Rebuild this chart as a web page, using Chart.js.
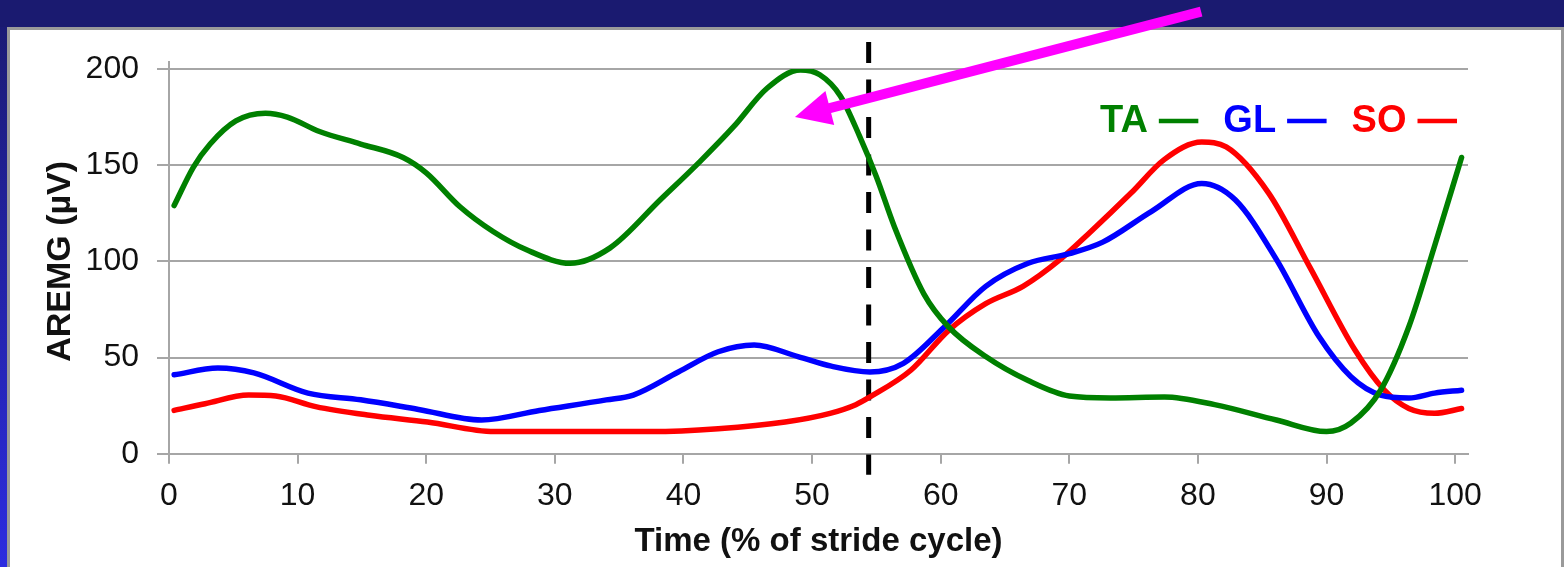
<!DOCTYPE html>
<html>
<head>
<meta charset="utf-8">
<script src="https://cdn.jsdelivr.net/npm/chart.js@4.4.1/dist/chart.umd.min.js"></script>
<style>
  html, body { margin: 0; padding: 0; background: #1a1a70; }
  #wrap { width: 1564px; height: 567px; }
</style>
</head>
<body>
<div id="wrap"><canvas id="c" width="1564" height="567"></canvas></div>
<script>
// ---- data ----
const xTicks = [0, 10, 20, 30, 40, 50, 60, 70, 80, 90, 100];
const yTicks = [0, 50, 100, 150, 200];

const taTime = [0.4, 1.9, 3.2, 5.2, 7.5, 9.2, 11.7, 14.9, 18.2, 20.0, 22.6, 25.2, 27.8, 31.2, 34.3, 38.2, 41.3, 43.9, 46.5, 49.1, 50.6, 52.2, 53.7, 55.0, 56.4, 58.7, 60.6, 63.5, 66.8, 70.0, 73.2, 77.4, 81.3, 86.1, 90.0, 91.9, 94.2, 96.4, 98.4, 100.5];
const taValues = [129, 149, 161, 173, 177, 175, 167.5, 161, 154, 146, 128.5, 115.5, 106, 99, 107, 132, 152, 170, 190, 199.5, 197, 186, 165, 144, 118, 83, 66, 50.5, 38, 30, 29, 29.5, 25.5, 17.5, 11.5, 16, 33, 66, 108, 154];

const glTime = [0.4, 3.8, 6.6, 10.8, 14.9, 19.4, 24.3, 28.8, 34.0, 36.1, 39.6, 42.7, 45.5, 48.9, 51.5, 54.5, 57.1, 60.3, 63.5, 66.8, 70.0, 72.6, 76.4, 80.3, 82.9, 86.1, 89.4, 91.9, 94.2, 96.4, 98.4, 100.5];
const glValues = [41, 44.5, 42, 31.5, 28, 23, 17.5, 22.5, 28, 30.5, 42.5, 53, 56.5, 50.5, 45.5, 42.5, 47, 66, 87, 99, 104, 110, 126, 140.5, 132, 101, 61, 40, 30.5, 29, 31.5, 33];

const soTime = [0.4, 2.8, 6.2, 8.3, 11.4, 15.6, 20.1, 25.3, 37.5, 42.7, 47.9, 51.4, 53.4, 54.5, 57.7, 60.6, 63.5, 66.4, 69.3, 71.6, 74.8, 77.4, 80.3, 82.2, 85.5, 88.7, 92.2, 94.5, 96.4, 98.4, 100.5];
const soValues = [22.5, 26, 30.5, 30, 24.5, 20, 16.5, 11.5, 11.5, 13, 16.5, 21, 25.5, 29.5, 43.5, 64, 78, 87, 101, 115, 135.5, 153, 162, 159.5, 135.5, 97, 54, 33, 23.5, 21, 23.5];

const seriesNames = ['TA', 'GL', 'SO'];
const seriesColors = ['#008000', '#0000ff', '#ff0000'];

const stanceLine = { time: [54.4, 54.4], values: [214, -11] };
const arrow = { tail: [80.25, 229.8], tip: [48.67, 175.0] };

function pts(xs, ys) { return xs.map((x, i) => ({ x: x, y: ys[i] })); }

const FONT = "'Liberation Sans', Arial, Helvetica, sans-serif";

// ---- plugins ----
const backgroundPlugin = {
  id: 'bg',
  beforeDraw(chart) {
    const ctx = chart.ctx, W = chart.width, H = chart.height;
    ctx.save();
    ctx.fillStyle = '#1a1a70';
    ctx.fillRect(0, 0, W, H);
    const g = ctx.createLinearGradient(0, 0, 0, H);
    g.addColorStop(0, '#1a1a70');
    g.addColorStop(1, '#2c2ce0');
    ctx.fillStyle = g;
    ctx.fillRect(0, 27, 8, H - 27);
    ctx.fillStyle = '#9a9a9a';
    ctx.fillRect(7, 27, W - 7, H - 27);
    ctx.fillStyle = '#ffffff';
    ctx.fillRect(10, 30, W - 13, H - 30);
    ctx.restore();
  }
};

const overlayPlugin = {
  id: 'overlay',
  afterDraw(chart) {
    const ctx = chart.ctx;
    const xs = chart.scales.x, ys = chart.scales.y;
    const area = chart.chartArea;
    ctx.save();
    // y axis line extends a little above the top gridline
    ctx.strokeStyle = '#a6a6a6';
    ctx.lineWidth = 2;
    ctx.beginPath();
    ctx.moveTo(area.left, area.top - 8);
    ctx.lineTo(area.left, area.top);
    ctx.stroke();

    // legend: label text followed by a colored dash
    ctx.font = 'bold 38px ' + FONT;
    ctx.textBaseline = 'alphabetic';
    ctx.textAlign = 'left';
    let x = 1100;
    chart.data.datasets.forEach(ds => {
      if (!ds.inLegend) return;
      ctx.fillStyle = ds.borderColor;
      ctx.fillText(ds.label, x, 132);
      x += ctx.measureText(ds.label).width + 11;
      ctx.strokeStyle = ds.borderColor;
      ctx.lineWidth = 4.5;
      ctx.beginPath();
      ctx.moveTo(x, 121);
      ctx.lineTo(x + 39.5, 121);
      ctx.stroke();
      x += 39.5 + 25;
    });

    // magenta arrow
    const tx = xs.getPixelForValue(arrow.tail[0]), ty = ys.getPixelForValue(arrow.tail[1]);
    const hx = xs.getPixelForValue(arrow.tip[0]), hy = ys.getPixelForValue(arrow.tip[1]);
    const dx = hx - tx, dy = hy - ty, L = Math.hypot(dx, dy);
    const ux = dx / L, uy = dy / L;
    const headLen = 36, headHalf = 17.5;
    const bx = hx - ux * headLen, by = hy - uy * headLen;
    ctx.strokeStyle = '#ff00ff';
    ctx.fillStyle = '#ff00ff';
    ctx.lineWidth = 10;
    ctx.lineCap = 'butt';
    ctx.beginPath();
    ctx.moveTo(tx, ty);
    ctx.lineTo(bx + ux * 4, by + uy * 4);
    ctx.stroke();
    ctx.beginPath();
    ctx.moveTo(hx, hy);
    ctx.lineTo(bx - uy * headHalf, by + ux * headHalf);
    ctx.lineTo(bx + uy * headHalf, by - ux * headHalf);
    ctx.closePath();
    ctx.fill();
    ctx.restore();
  }
};

// ---- chart ----
const datasets = [
  { label: seriesNames[0], data: pts(taTime, taValues), borderColor: seriesColors[0], inLegend: true },
  { label: seriesNames[1], data: pts(glTime, glValues), borderColor: seriesColors[1], inLegend: true },
  { label: seriesNames[2], data: pts(soTime, soValues), borderColor: seriesColors[2], inLegend: true },
].map(d => Object.assign(d, {
  borderWidth: 5.5,
  pointRadius: 0,
  fill: false,
  cubicInterpolationMode: 'monotone',
  borderCapStyle: 'round',
  borderJoinStyle: 'round'
}));

datasets.push({
  label: '',
  inLegend: false,
  data: pts(stanceLine.time, stanceLine.values),
  borderColor: '#000000',
  borderWidth: 5,
  borderDash: [21, 16.5],
  pointRadius: 0,
  clip: false,
  fill: false
});

new Chart(document.getElementById('c'), {
  type: 'line',
  data: { datasets: datasets },
  plugins: [backgroundPlugin, overlayPlugin],
  options: {
    responsive: false,
    animation: false,
    devicePixelRatio: 1,
    layout: { padding: { top: 69, right: 96, bottom: 0, left: 0 } },
    plugins: { legend: { display: false }, tooltip: { enabled: false } },
    scales: {
      x: {
        type: 'linear',
        min: 0,
        max: 101,
        afterBuildTicks: s => { s.ticks = xTicks.map(v => ({ value: v })); },
        afterFit: s => { s.height = 113.3; },
        ticks: {
          color: '#111111',
          font: { family: FONT, size: 32 },
          padding: 13,
          maxRotation: 0,
          autoSkip: false
        },
        grid: {
          drawOnChartArea: false,
          color: '#a6a6a6',
          lineWidth: 2,
          tickLength: 10,
          tickColor: '#a6a6a6'
        },
        border: { color: '#a6a6a6', width: 2 },
        title: {
          display: true,
          text: 'Time (% of stride cycle)',
          color: '#111111',
          font: { family: FONT, size: 33, weight: 'bold' },
          padding: { top: 0, bottom: 5 }
        }
      },
      y: {
        min: 0,
        max: 200,
        afterBuildTicks: s => { s.ticks = yTicks.map(v => ({ value: v })); },
        afterFit: s => { s.width = 169; },
        ticks: {
          color: '#111111',
          font: { family: FONT, size: 32 },
          padding: 18
        },
        grid: {
          color: '#a6a6a6',
          lineWidth: 2,
          tickLength: 12,
          tickColor: '#a6a6a6'
        },
        border: { color: '#a6a6a6', width: 2 },
        title: {
          display: true,
          text: 'AREMG (µV)',
          color: '#111111',
          font: { family: FONT, size: 34, weight: 'bold' },
          padding: { top: 40.5, bottom: 0 }
        }
      }
    }
  }
});
</script>
</body>
</html>
